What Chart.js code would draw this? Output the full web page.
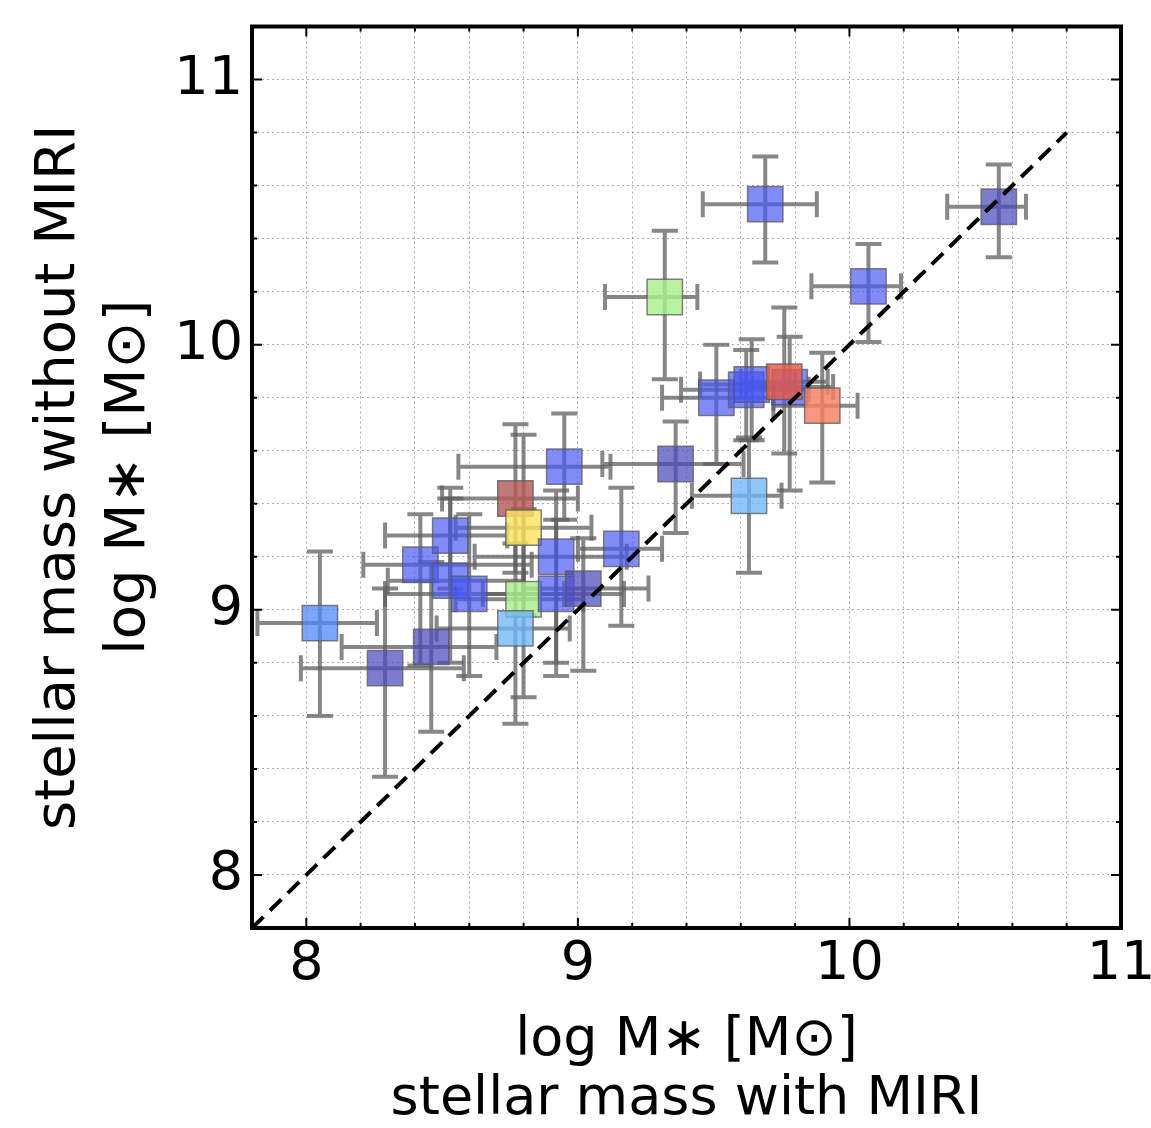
<!DOCTYPE html>
<html>
<head>
<meta charset="utf-8">
<script src="https://cdn.jsdelivr.net/npm/chart.js@4.4.1/dist/chart.umd.min.js"></script>
<style>
	html, body { margin: 0; padding: 0; background: #fff; }
	#wrap { width: 1151px; height: 1128px; }
</style>
</head>
<body>
<div id="wrap"><canvas id="massChart" width="1151" height="1128"></canvas></div>
<script>
"use strict";

// log M* with MIRI (x) and without MIRI (y)
var massWith    = [8.05, 8.29, 8.46, 8.42, 8.53, 8.53, 8.60, 8.77, 8.80, 8.80, 8.77, 8.95, 9.36, 9.16,
                   8.92, 8.92, 9.02, 9.51, 9.62, 9.64, 9.78, 9.76, 9.90, 9.63, 9.32, 9.69, 10.07, 10.55];
var massWithout = [8.95, 8.78, 8.86, 9.17, 9.28, 9.11, 9.06, 9.42, 9.31, 9.04, 8.93, 9.54, 9.55, 9.23,
                   9.20, 9.06, 9.08, 9.80, 9.83, 9.85, 9.84, 9.86, 9.77, 9.43, 10.18, 10.53, 10.22, 10.52];

// error bar ends
var withLo    = [7.82, 7.98, 8.13, 8.21, 8.29, 8.30, 8.29, 8.50, 8.55, 8.55, 8.48, 8.56, 9.09, 9.00,
                 8.62, 8.65, 8.80, 9.31, 9.38, 9.45, 9.62, 9.60, 9.72, 9.42, 9.10, 9.46, 9.86, 10.36];
var withHi    = [8.26, 8.58, 8.70, 8.83, 8.74, 8.80, 8.95, 9.00, 9.05, 9.02, 8.97, 9.12, 9.61, 9.31,
                 9.18, 9.17, 9.26, 9.72, 9.85, 9.80, 9.94, 9.92, 10.03, 9.75, 9.44, 9.88, 10.19, 10.65];
var withoutLo = [8.60, 8.37, 8.54, 8.79, 9.08, 8.80, 8.75, 9.14, 8.98, 8.67, 8.57, 9.34, 9.29, 8.94,
                 8.75, 8.80, 8.77, 9.55, 9.64, 9.64, 9.45, 9.59, 9.48, 9.14, 9.87, 10.31, 10.01, 10.33];
var withoutHi = [9.22, 9.08, 9.18, 9.36, 9.46, 9.42, 9.36, 9.70, 9.66, 9.38, 9.25, 9.74, 9.71, 9.46,
                 9.45, 9.34, 9.27, 10.00, 9.98, 10.02, 10.03, 10.14, 9.97, 9.65, 10.43, 10.71, 10.38, 10.68];

// colour class of each galaxy
var colourBin = ['cornflower', 'slate', 'slate', 'blue', 'blue', 'blue', 'blue', 'brown', 'yellow', 'green', 'sky', 'blue', 'slate', 'blue',
                 'blue', 'blue', 'slate', 'blue', 'blue', 'blue', 'blue', 'red', 'salmon', 'sky', 'green', 'blue', 'blue', 'slate'];

// one-to-one line
var oneToOneX = [7.8, 10.8];
var oneToOneY = [7.8, 10.8];

var tickLabels = ['8', '9', '10', '11'];

var binColours = {
	slate: 'rgba(75, 75, 190, 0.72)',
	blue: 'rgba(70, 85, 245, 0.68)',
	cornflower: 'rgba(80, 135, 250, 0.75)',
	sky: 'rgba(110, 185, 250, 0.78)',
	green: 'rgba(170, 240, 140, 0.82)',
	yellow: 'rgba(250, 228, 95, 0.82)',
	brown: 'rgba(180, 90, 85, 0.82)',
	red: 'rgba(232, 92, 72, 0.82)',
	salmon: 'rgba(245, 128, 98, 0.82)'
};

var points = massWith.map(function (x, i) {
	return { x: x, y: massWithout[i] };
});
var diagonal = oneToOneX.map(function (x, i) {
	return { x: x, y: oneToOneY[i] };
});

function tickText(value) {
	var r = Math.round(value);
	if (Math.abs(value - r) < 1e-6 && tickLabels.indexOf(String(r)) >= 0) {
		return String(r);
	}
	return '';
}

// error bars, drawn under the squares
var errorBars = {
	id: 'errorBars',
	beforeDatasetsDraw: function (chart) {
		var ctx = chart.ctx, xs = chart.scales.x, ys = chart.scales.y, area = chart.chartArea;
		var cap = 13;
		ctx.save();
		ctx.beginPath();
		ctx.rect(area.left, area.top, area.right - area.left, area.bottom - area.top);
		ctx.clip();
		ctx.strokeStyle = 'rgba(95, 95, 95, 0.75)';
		ctx.lineWidth = 4;
		for (var i = 0; i < massWith.length; i++) {
			var px = xs.getPixelForValue(massWith[i]);
			var py = ys.getPixelForValue(massWithout[i]);
			var x0 = xs.getPixelForValue(withLo[i]), x1 = xs.getPixelForValue(withHi[i]);
			var y0 = ys.getPixelForValue(withoutLo[i]), y1 = ys.getPixelForValue(withoutHi[i]);
			ctx.beginPath();
			ctx.moveTo(x0, py); ctx.lineTo(x1, py);
			ctx.moveTo(x0, py - cap); ctx.lineTo(x0, py + cap);
			ctx.moveTo(x1, py - cap); ctx.lineTo(x1, py + cap);
			ctx.moveTo(px, y0); ctx.lineTo(px, y1);
			ctx.moveTo(px - cap, y0); ctx.lineTo(px + cap, y0);
			ctx.moveTo(px - cap, y1); ctx.lineTo(px + cap, y1);
			ctx.stroke();
		}
		ctx.restore();
	}
};

// box frame with inward ticks on all sides
var frame = {
	id: 'frame',
	afterDraw: function (chart) {
		var ctx = chart.ctx, a = chart.chartArea;
		ctx.save();
		ctx.strokeStyle = '#000';
		ctx.lineWidth = 2;
		ctx.beginPath();
		chart.scales.x.ticks.forEach(function (t) {
			var p = chart.scales.x.getPixelForValue(t.value);
			var len = tickText(t.value) ? 10 : 5;
			ctx.moveTo(p, a.bottom); ctx.lineTo(p, a.bottom - len);
			ctx.moveTo(p, a.top); ctx.lineTo(p, a.top + len);
		});
		chart.scales.y.ticks.forEach(function (t) {
			var p = chart.scales.y.getPixelForValue(t.value);
			var len = tickText(t.value) ? 10 : 5;
			ctx.moveTo(a.left, p); ctx.lineTo(a.left + len, p);
			ctx.moveTo(a.right, p); ctx.lineTo(a.right - len, p);
		});
		ctx.stroke();
		ctx.lineWidth = 4;
		ctx.strokeRect(a.left, a.top, a.right - a.left, a.bottom - a.top);
		ctx.restore();
	}
};

var gridStyle = { color: 'rgba(0, 0, 0, 0.32)', lineWidth: 1, drawTicks: false };

new Chart(document.getElementById('massChart'), {
	type: 'scatter',
	data: {
		datasets: [{
			type: 'line',
			data: diagonal,
			borderColor: '#000',
			borderWidth: 4,
			borderDash: [16, 9],
			pointRadius: 0,
			fill: false,
			order: 0
		}, {
			data: points,
			pointStyle: 'rect',
			pointRadius: 25,
			backgroundColor: colourBin.map(function (b) { return binColours[b]; }),
			borderColor: 'rgba(90, 90, 90, 0.75)',
			borderWidth: 1.5,
			order: 1
		}]
	},
	options: {
		responsive: false,
		animation: false,
		events: [],
		layout: { padding: { top: 20, right: 30, left: 0, bottom: 0 } },
		plugins: { legend: { display: false }, tooltip: { enabled: false } },
		scales: {
			x: {
				type: 'linear',
				min: 7.8,
				max: 11,
				grid: gridStyle,
				border: { display: false, dash: [2, 3] },
				ticks: {
					stepSize: 0.2,
					autoSkip: false,
					maxRotation: 0,
					padding: 5,
					color: '#000',
					font: { family: 'DejaVu Sans', size: 54 },
					callback: tickText
				},
				title: {
					display: true,
					text: ['log M\u2217 [M\u2299]', 'stellar mass with MIRI'],
					color: '#000',
					font: { family: 'DejaVu Sans', size: 54, lineHeight: 1.1 },
					padding: { top: 0, bottom: -2 }
				},
				afterFit: function (scale) {
					scale.height = 200;
					scale.paddingLeft = 0;
					scale.paddingRight = 0;
				}
			},
			y: {
				type: 'linear',
				min: 7.8,
				max: 11.2,
				grid: gridStyle,
				border: { display: false, dash: [2, 3] },
				ticks: {
					stepSize: 0.2,
					autoSkip: false,
					padding: 9,
					color: '#000',
					font: { family: 'DejaVu Sans', size: 54 },
					callback: tickText
				},
				title: {
					display: true,
					text: ['stellar mass without MIRI', 'log M\u2217 [M\u2299]'],
					color: '#000',
					font: { family: 'DejaVu Sans', size: 56, lineHeight: 1.25 },
					padding: { top: 24, bottom: 0 }
				},
				afterFit: function (scale) {
					scale.width = 252;
					scale.paddingTop = 0;
					scale.paddingBottom = 0;
				}
			}
		}
	},
	plugins: [errorBars, frame]
});
</script>
</body>
</html>
